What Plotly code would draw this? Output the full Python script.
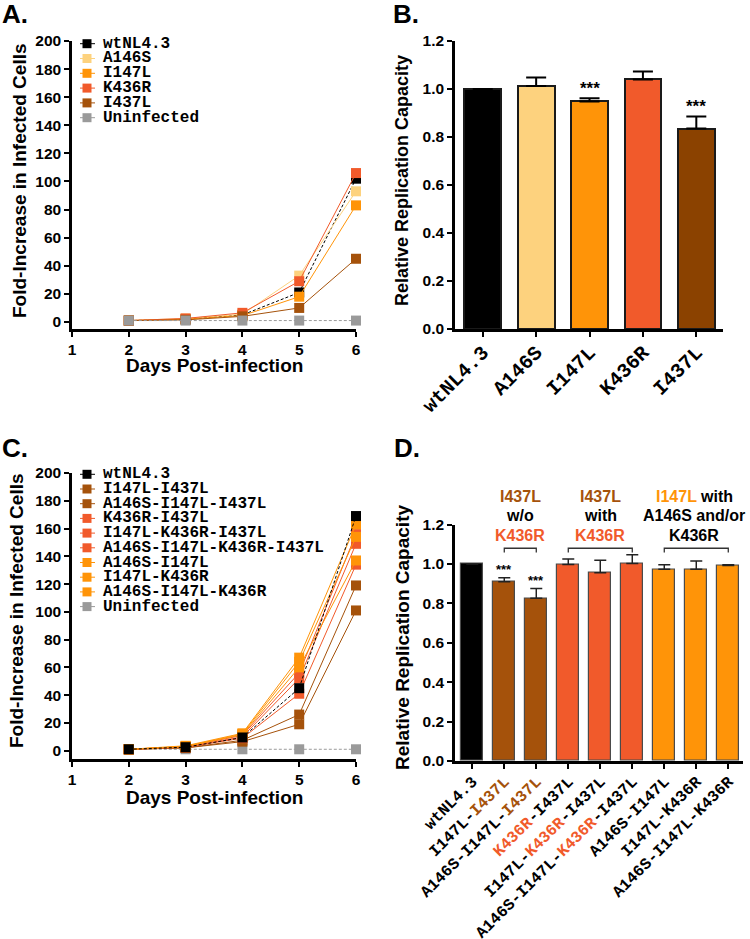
import plotly.graph_objects as go

W, H = 750, 939


def px(x):
    return x / W


def py(y):
    return 1 - y / H


# ---------------- data ----------------
days = [2, 3, 4, 5, 6]

# Panel A
a_names = ["wtNL4.3", "A146S", "I147L", "K436R", "I437L", "Uninfected"]
a_wt = [1, 2, 5, 21, 102]
a_a146s = [1, 2.5, 5.5, 33, 93]
a_i147l = [1, 2, 4.5, 18, 83]
a_k436r = [1, 2.5, 6.5, 29, 106]
a_i437l = [1, 1.5, 4, 10, 45]
a_uninf = [1, 1, 1, 1, 1]

# Panel B
b_names = ["wtNL4.3", "A146S", "I147L", "K436R", "I437L"]
b_values = [1.0, 1.013, 0.948, 1.040, 0.835]
b_errors = [0.0, 0.035, 0.013, 0.033, 0.050]
b_sig = ["", "", "***", "", "***"]

# Panel C
c_names = ["wtNL4.3", "I147L-I437L", "A146S-I147L-I437L", "K436R-I437L",
           "I147L-K436R-I437L", "A146S-I147L-K436R-I437L", "A146S-I147L",
           "I147L-K436R", "A146S-I147L-K436R", "Uninfected"]
c_wt = [1, 2.5, 9.5, 45, 169]
c_i147l_i437l = [1, 2, 7.5, 26, 119]
c_a146s_i147l_i437l = [1, 2, 6.5, 19, 101]
c_k436r_i437l = [1, 2.5, 10, 52, 149]
c_i147l_k436r_i437l = [1, 2.5, 9, 41, 134]
c_a146s_i147l_k436r_i437l = [1, 3, 11, 56, 156]
c_a146s_i147l = [1, 3, 11.5, 60, 137]
c_i147l_k436r = [1, 3, 12, 64, 154]
c_a146s_i147l_k436r = [1, 3.5, 12.5, 67, 163]
c_uninf = [1, 1, 1, 1, 1]

# Panel D
d_names = ["wtNL4.3", "I147L-I437L", "A146S-I147L-I437L", "K436R-I437L",
           "I147L-K436R-I437L", "A146S-I147L-K436R-I437L", "A146S-I147L",
           "I147L-K436R", "A146S-I147L-K436R"]
d_values = [1.0, 0.910, 0.826, 0.998, 0.956, 1.002, 0.973, 0.973, 0.993]
d_errors = [0.0, 0.020, 0.050, 0.027, 0.063, 0.045, 0.023, 0.042, 0.003]
d_sig = ["", "***", "***", "", "", "", "", "", ""]

a_ticks = list(range(0, 201, 20))
bd_ticks = [0.0, 0.2, 0.4, 0.6, 0.8, 1.0, 1.2]

# ---------------- styles ----------------
SANS = "Liberation Sans, Arial, sans-serif"
MONO = "Liberation Mono, Courier New, monospace"
C_WT = "#000000"
C_A146S = "#fdd27e"
C_I147L = "#ff9408"
C_K436R = "#f15a2b"
C_I437L = "#a5520b"
C_I437L_B = "#8b4200"
C_GRAY = "#9a9a9a"

fig = go.Figure()


def line_trace(name, ys, color, xa, ya, dash="solid"):
    return go.Scatter(
        x=days, y=ys, name=name, mode="lines+markers",
        line=dict(color=color, width=1, dash=dash),
        marker=dict(symbol="square", size=10, color=color),
        xaxis=xa, yaxis=ya, showlegend=False, cliponaxis=False,
    )


# Panel A traces (wt underneath, uninfected on top)
a_series = [a_wt, a_a146s, a_i147l, a_k436r, a_i437l, a_uninf]
a_colors = [C_WT, C_A146S, C_I147L, C_K436R, C_I437L, C_GRAY]
a_dash = ["3px,2px", "solid", "solid", "solid", "solid", "3px,2px"]
for n, s, c, d in zip(a_names, a_series, a_colors, a_dash):
    fig.add_trace(line_trace(n, s, c, "x", "y", d))

# Panel B bars
b_colors = [C_WT, C_A146S, C_I147L, C_K436R, C_I437L_B]
fig.add_trace(go.Bar(
    x=list(range(len(b_names))), y=b_values, width=0.69,
    marker=dict(color=b_colors, line=dict(color="#1a1a1a", width=2)),
    error_y=dict(type="data", symmetric=False, array=b_errors,
                 arrayminus=[0] * len(b_errors), color="black",
                 thickness=2, width=10),
    xaxis="x2", yaxis="y2", showlegend=False,
))

# Panel C traces (uninfected bottom, wt on top)
c_series = [c_wt, c_i147l_i437l, c_a146s_i147l_i437l, c_k436r_i437l,
            c_i147l_k436r_i437l, c_a146s_i147l_k436r_i437l, c_a146s_i147l,
            c_i147l_k436r, c_a146s_i147l_k436r, c_uninf]
c_colors = [C_WT, C_I437L, C_I437L, C_K436R, C_K436R, C_K436R,
            C_I147L, C_I147L, C_I147L, C_GRAY]
c_dash = ["3px,2px"] + ["solid"] * 8 + ["3px,2px"]
order = [9, 1, 2, 3, 4, 5, 6, 7, 8, 0]
for i in order:
    fig.add_trace(line_trace(c_names[i], c_series[i], c_colors[i], "x3", "y3", c_dash[i]))

# Panel D bars
d_colors = [C_WT, C_I437L, C_I437L, C_K436R, C_K436R, C_K436R,
            C_I147L, C_I147L, C_I147L]
fig.add_trace(go.Bar(
    x=list(range(len(d_names))), y=d_values, width=0.68,
    marker=dict(color=d_colors, line=dict(color="#4a4a4a", width=1.2)),
    error_y=dict(type="data", symmetric=False, array=d_errors,
                 arrayminus=[0] * len(d_errors), color="#222222",
                 thickness=1.5, width=6),
    xaxis="x4", yaxis="y4", showlegend=False,
))

# ---------------- axes ----------------
tickfont = dict(family=SANS, size=15.5, color="black", weight="bold")
common = dict(showline=True, linewidth=2.5, linecolor="black", ticks="outside",
              ticklen=5, tickwidth=2, tickcolor="black", showgrid=False,
              zeroline=False, tickfont=tickfont, fixedrange=True,
              automargin=False)

top = [py(329), py(41)]
bottom_c = [py(759), py(473)]
bottom_d = [py(761), py(524.6)]

d_ticktext = [
    "wtNL4.3",
    "I147L-<span style='color:%s'>I437L</span>" % C_I437L,
    "A146S-I147L-<span style='color:%s'>I437L</span>" % C_I437L,
    "<span style='color:%s'>K436R</span>-I437L" % C_K436R,
    "I147L-<span style='color:%s'>K436R</span>-I437L" % C_K436R,
    "A146S-I147L-<span style='color:%s'>K436R</span>-I437L" % C_K436R,
    "A146S-I147L",
    "I147L-K436R",
    "A146S-I147L-K436R",
]

fig.update_layout(
    width=W, height=H, margin=dict(l=0, r=0, t=0, b=0, autoexpand=False),
    paper_bgcolor="white", plot_bgcolor="white", showlegend=False,
    bargap=0,
    xaxis=dict(common, domain=[px(72), px(356)], range=[1, 6],
               tickvals=[1, 2, 3, 4, 5, 6], anchor="y"),
    yaxis=dict(common, domain=top, range=[-5, 200], tickvals=a_ticks, anchor="x"),
    xaxis2=dict(common, domain=[px(455), px(723)], range=[-0.52, 4.5],
                tickvals=list(range(len(b_names))), ticktext=b_names,
                tickangle=-45, anchor="y2", ticklabelstandoff=-4,
                tickfont=dict(family=MONO, size=20, color="black", weight="bold")),
    yaxis2=dict(common, domain=top, range=[0, 1.2], tickvals=bd_ticks,
                tickformat=".1f", anchor="x2"),
    xaxis3=dict(common, domain=[px(72), px(356)], range=[1, 6],
                tickvals=[1, 2, 3, 4, 5, 6], anchor="y3"),
    yaxis3=dict(common, domain=bottom_c, range=[-6, 200], tickvals=a_ticks, anchor="x3"),
    xaxis4=dict(common, domain=[px(455), px(743)], range=[-0.54, 8.46],
                tickvals=list(range(len(d_names))), ticktext=d_ticktext,
                tickangle=-45, anchor="y4", ticklabelstandoff=-3,
                tickfont=dict(family=MONO, size=16, color="black", weight="bold")),
    yaxis4=dict(common, domain=bottom_d, range=[0, 1.2], tickvals=bd_ticks,
                tickformat=".1f", anchor="x4"),
)

annotations = []
shapes = []


def label(text, x, y, size, angle=0, xanchor="center", color="black", family=SANS):
    annotations.append(dict(
        text=text, x=px(x), y=py(y), xref="paper", yref="paper",
        showarrow=False, textangle=angle, xanchor=xanchor, yanchor="middle",
        font=dict(family=family, size=size, color=color, weight="bold"),
    ))


# panel letters
label("A.", 0, 14, 26, xanchor="left")
label("B.", 391, 14, 26, xanchor="left")
label("C.", 0, 448, 26, xanchor="left")
label("D.", 392, 448, 26, xanchor="left")

# axis titles
label("Fold-Increase in Infected Cells", 19, 181, 19, angle=-90)
label("Days Post-infection", 214, 366, 19)
label("Relative Replication Capacity", 402, 181, 18, angle=-90)
label("Fold-Increase in Infected Cells", 16, 611, 19, angle=-90)
label("Days Post-infection", 214, 797, 19)
label("Relative Replication Capacity", 402, 638, 19, angle=-90)


# manual legends
def legend(names, colors, y0, step):
    for i, (n, c) in enumerate(zip(names, colors)):
        yc = y0 + i * step
        shapes.append(dict(type="line", xref="paper", yref="paper",
                           x0=px(80), x1=px(95), y0=py(yc), y1=py(yc),
                           line=dict(color=c, width=1)))
        shapes.append(dict(type="rect", xref="paper", yref="paper",
                           x0=px(82.5), x1=px(91.5), y0=py(yc + 4.5), y1=py(yc - 4.5),
                           line=dict(width=0), fillcolor=c))
        label(n, 101, yc, 16, xanchor="left", family=MONO)


legend(a_names, a_colors, 43.7, 14.8)
legend(c_names, c_colors, 474.3, 14.7)

# significance stars
for i, s in enumerate(b_sig):
    if s:
        annotations.append(dict(text=s, x=i, y=b_values[i] + b_errors[i] + 0.04,
                                xref="x2", yref="y2", showarrow=False,
                                yanchor="middle",
                                font=dict(family=SANS, size=17, color="black", weight="bold")))
for i, s in enumerate(d_sig):
    if s:
        annotations.append(dict(text=s, x=i, y=d_values[i] + d_errors[i] + 0.042,
                                xref="x4", yref="y4", showarrow=False,
                                yanchor="middle",
                                font=dict(family=SANS, size=13, color="black", weight="bold")))

# group brackets in D
groups = [(1, 2), (3, 5), (6, 8)]
group_shift = [0, 0, -2]
group_text = [
    ["<span style='color:%s'>I437L</span>" % C_I437L, "w/o",
     "<span style='color:%s'>K436R</span>" % C_K436R],
    ["<span style='color:%s'>I437L</span>" % C_I437L, "with",
     "<span style='color:%s'>K436R</span>" % C_K436R],
    ["<span style='color:%s'>I147L</span> with" % C_I147L, "A146S and/or", "K436R"],
]
for (g0, g1), lines, sh in zip(groups, group_text, group_shift):
    shapes.append(dict(type="path", xref="x4", yref="y4",
                       path="M %f,1.058 L %f,1.08 L %f,1.08 L %f,1.058" % (g0, g0, g1, g1),
                       line=dict(color="#333333", width=1.3)))
    for k, t in enumerate(lines):
        annotations.append(dict(text=t, x=(g0 + g1) / 2, y=py(496.7 + k * 19.2),
                                xref="x4", yref="paper", showarrow=False,
                                yanchor="middle", xshift=sh,
                                font=dict(family=SANS, size=16, color="black", weight="bold")))

fig.update_layout(annotations=annotations, shapes=shapes)
fig.write_html("out.html", config={"displayModeBar": False},
               post_script="document.body.style.margin='0px';")
